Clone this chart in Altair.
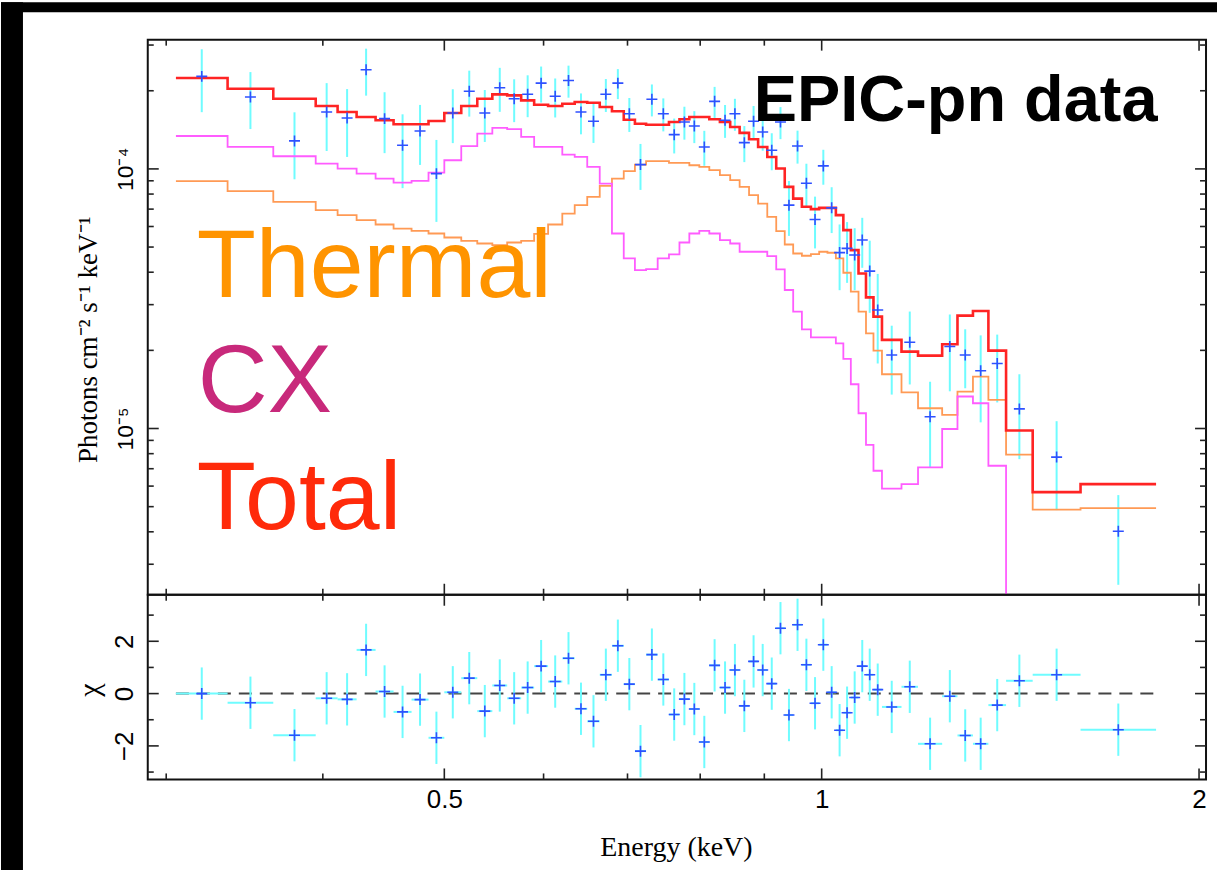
import altair as alt
import numpy as np
import pandas as pd

# ---------------- data ----------------
# energy bin edges (keV)
edges = [0.3054, 0.3358, 0.3652, 0.3948, 0.4110, 0.4256, 0.4407, 0.4555, 0.4708, 0.4857,
         0.5000, 0.5158, 0.5312, 0.5461, 0.5612, 0.5758, 0.5897, 0.6050, 0.6210, 0.6353,
         0.6501, 0.6652, 0.6803, 0.6952, 0.7096, 0.7243, 0.7399, 0.7554, 0.7701, 0.7842,
         0.7987, 0.8135, 0.8295, 0.8453, 0.8601, 0.8751, 0.8898, 0.9049, 0.9199, 0.9344,
         0.9490, 0.9643, 0.9804, 0.9954, 1.0107, 1.0264, 1.0406, 1.0550, 1.0700, 1.0848,
         1.0998, 1.1171, 1.1579, 1.1936, 1.2477, 1.2833, 1.3203, 1.3583, 1.4031, 1.4734,
         1.6088, 1.8482]

# unfolded data (photons cm^-2 s^-1 keV^-1)
flux = [2.272e-4, 1.892e-4, 1.282e-4, 1.656e-4, 1.571e-4, 2.41e-4, 1.562e-4, 1.233e-4, 1.40e-4, 9.59e-5,
        1.642e-4, 1.99e-4, 1.642e-4, 2.055e-4, 1.864e-4, 1.938e-4, 2.14e-4, 1.904e-4, 2.19e-4, 1.656e-4,
        1.526e-4, 1.938e-4, 2.14e-4, 1.632e-4, 1.039e-4, 1.854e-4, 1.632e-4, 1.355e-4, 1.516e-4, 1.463e-4,
        1.215e-4, 1.821e-4, 1.54e-4, 1.632e-4, 1.262e-4, 1.526e-4, 1.388e-4, 1.18e-4, 1.516e-4, 7.25e-5,
        1.226e-4, 8.81e-5, 6.38e-5, 1.027e-4, 7.08e-5, 4.76e-5, 4.94e-5, 4.66e-5, 5.32e-5, 4.04e-5,
        2.86e-5, 1.92e-5, 2.15e-5, 1.11e-5, 2.07e-5, 1.92e-5, 1.67e-5, 1.78e-5, 1.19e-5, 7.76e-6,
        4.02e-6]

flux_err = [6.18e-5, 4.68e-5, 3.70e-5, 4.84e-5, 4.59e-5, 4.95e-5, 4.12e-5, 3.90e-5, 3.64e-5, 3.34e-5,
            3.85e-5, 4.00e-5, 3.72e-5, 3.96e-5, 3.50e-5, 3.56e-5, 3.39e-5, 3.26e-5, 3.09e-5, 2.97e-5,
            2.67e-5, 2.81e-5, 2.83e-5, 2.44e-5, 2.09e-5, 2.61e-5, 2.37e-5, 2.08e-5, 2.20e-5, 2.06e-5,
            1.87e-5, 2.49e-5, 2.23e-5, 2.30e-5, 2.00e-5, 2.21e-5, 2.13e-5, 1.92e-5, 2.14e-5, 1.73e-5,
            1.78e-5, 1.66e-5, 1.44e-5, 1.58e-5, 1.42e-5, 1.35e-5, 1.30e-5, 1.25e-5, 1.16e-5, 1.25e-5,
            1.08e-5, 5.69e-6, 6.72e-6, 4.04e-6, 6.79e-6, 4.91e-6, 6.14e-6, 5.20e-6, 4.28e-6, 2.91e-6,
            1.52e-6]

# residuals (chi)
chi = [0.0, -0.35, -1.59, -0.18, -0.22, 1.67, 0.08, -0.70, -0.23, -1.69,
       0.05, 0.59, -0.67, 0.31, -0.18, 0.23, 1.05, 0.46, 1.35, -0.58,
       -1.06, 0.72, 1.83, 0.36, -2.20, 1.49, 0.54, -0.80, -0.21, -0.59,
       -1.85, 1.08, 0.23, 0.90, -0.47, 1.23, 0.90, 0.38, 2.50, -0.82,
       2.63, 1.10, -0.37, 1.87, 0.05, -1.40, -0.73, -0.15, 1.05, 0.72,
       0.15, -0.51, 0.26, -1.92, -0.10, -1.60, -1.92, -0.44, 0.49, 0.72,
       -1.38]

model_total = [2.239e-4, 2.035e-4, 1.864e-4, 1.747e-4, 1.656e-4, 1.585e-4, 1.539e-4, 1.485e-4, 1.485e-4, 1.530e-4,
               1.642e-4, 1.747e-4, 1.864e-4, 1.937e-4, 1.920e-4, 1.837e-4, 1.767e-4, 1.747e-4, 1.783e-4, 1.810e-4,
               1.799e-4, 1.732e-4, 1.667e-4, 1.547e-4, 1.493e-4, 1.480e-4, 1.480e-4, 1.516e-4, 1.553e-4, 1.585e-4,
               1.585e-4, 1.553e-4, 1.516e-4, 1.451e-4, 1.376e-4, 1.301e-4, 1.215e-4, 1.112e-4, 1.003e-4, 8.527e-5,
               7.686e-5, 7.145e-5, 6.998e-5, 7.079e-5, 7.079e-5, 6.636e-5, 5.81e-5, 4.867e-5, 3.957e-5, 3.199e-5,
               2.697e-5, 2.194e-5, 1.978e-5, 1.909e-5, 2.110e-5, 2.721e-5, 2.836e-5, 1.995e-5, 9.824e-6, 5.689e-6,
               6.105e-6]

model_cx = [1.339e-4, 1.215e-4, 1.119e-4, 1.048e-4, 1.003e-4, 9.592e-5, 9.177e-5, 8.857e-5, 8.993e-5, 9.678e-5,
            1.080e-4, 1.223e-4, 1.367e-4, 1.438e-4, 1.422e-4, 1.328e-4, 1.215e-4, 1.215e-4, 1.135e-4, 1.112e-4,
            1.018e-4, 8.777e-5, 5.638e-5, 4.519e-5, 4.077e-5, 4.113e-5, 4.519e-5, 4.682e-5, 5.206e-5, 5.638e-5,
            5.774e-5, 5.638e-5, 5.318e-5, 5.160e-5, 4.795e-5, 4.795e-5, 4.795e-5, 4.615e-5, 4.099e-5, 3.416e-5,
            2.818e-5, 2.409e-5, 2.245e-5, 2.245e-5, 2.245e-5, 2.129e-5, 1.854e-5, 1.481e-5, 1.145e-5, 8.656e-6,
            6.876e-6, 5.862e-6, 6.105e-6, 7.079e-6, 9.956e-6, 1.328e-5, 1.251e-5, 7.187e-6, 0.0, 0.0,
            0.0]

model_thermal = [8.971e-5, 8.207e-5, 7.464e-5, 6.936e-5, 6.636e-5, 6.349e-5, 6.106e-5, 5.893e-5, 5.774e-5, 5.638e-5,
                 5.442e-5, 5.285e-5, 5.160e-5, 5.087e-5, 5.206e-5, 5.285e-5, 5.623e-5, 6.106e-5, 6.731e-5, 7.252e-5,
                 7.805e-5, 8.603e-5, 9.177e-5, 9.798e-5, 1.039e-4, 1.071e-4, 1.071e-4, 1.055e-4, 1.055e-4, 1.033e-4,
                 1.018e-4, 9.886e-5, 9.458e-5, 9.049e-5, 8.527e-5, 7.924e-5, 7.355e-5, 6.535e-5, 5.759e-5, 5.114e-5,
                 4.722e-5, 4.628e-5, 4.698e-5, 4.795e-5, 4.753e-5, 4.519e-5, 3.981e-5, 3.365e-5, 2.818e-5, 2.325e-5,
                 1.995e-5, 1.618e-5, 1.379e-5, 1.197e-5, 1.129e-5, 1.388e-5, 1.585e-5, 1.290e-5, 7.925e-6, 4.866e-6,
                 4.936e-6]

# axis ticks / labels
x_major = [0.5, 1.0, 2.0]
x_minor = [0.3, 0.4, 0.6, 0.7, 0.8, 0.9]
y1_major = [1e-5, 1e-4]
y1_minor = [3e-6, 4e-6, 5e-6, 6e-6, 7e-6, 8e-6, 9e-6,
            2e-5, 3e-5, 4e-5, 5e-5, 6e-5, 7e-5, 8e-5, 9e-5, 2e-4, 3e-4]
y2_major = [-2, 0, 2]
y2_minor = [-3, -1, 1, 3]

# ---------------- styling ----------------
SANS = "Liberation Sans"
SERIF = "Liberation Serif"
W, H1, H2 = 1060, 556, 185
MAJ, MIN = 11, 6
C_RED = "#ff2424"
C_MAG = "#ff5cff"
C_ORA = "#ff9a55"
C_CYAN = "#6ffcff"
C_BLUE = "#2f50ff"
CROSS = "M-1,0L1,0M0,-1L0,1"

xs = alt.Scale(type="log", domain=[0.2900, 2.0258], nice=False)
ys1 = alt.Scale(type="log", domain=[2.289e-6, 3.147e-4], nice=False)
ys2 = alt.Scale(type="linear", domain=[-3.282, 3.779], nice=False, zero=False)

# ---------------- tables ----------------
lo = np.array(edges[:-1])
hi = np.array(edges[1:])
mid = np.sqrt(lo * hi)
f = np.array(flux)
fe = np.array(flux_err)
c = np.array(chi)
pts = pd.DataFrame({"E": mid, "lo": lo, "hi": hi, "f": f, "f_lo": f - fe, "f_hi": f + fe,
                    "chi": c, "c_lo": c - 1, "c_hi": c + 1})


def steps(vals):
    rows = []
    for i, v in enumerate(vals):
        v = max(v, 1e-9)
        rows.append({"E": lo[i], "v": v, "o": 2 * i})
        rows.append({"E": hi[i], "v": v, "o": 2 * i + 1})
    return pd.DataFrame(rows)


one = pd.DataFrame({"k": [0]})

y1_axis = alt.Axis(values=y1_major,
                   labelExpr="datum.value > 5e-5 ? '10⁻⁴' : '10⁻⁵'",
                   ticks=False, tickSize=0, domain=False, grid=False,
                   labelAngle=270, labelAlign="center", labelBaseline="bottom", labelPadding=10,
                   labelFont=SANS, labelFontSize=23, labelColor="black", labelFlush=False,
                   title="Photons cm⁻² s⁻¹ keV⁻¹", titleFont=SERIF, titleFontSize=27,
                   titleFontWeight="normal", titleColor="black", titleAngle=270,
                   titleAlign="center", titleBaseline="middle", titleX=-59, titleY=300, zindex=1)

y2_axis = alt.Axis(values=y2_major,
                   labelExpr="datum.value < 0 ? '−2' : (datum.value > 0 ? '2' : '0')",
                   ticks=False, tickSize=0, domain=False, grid=False,
                   labelAngle=270, labelAlign="center", labelBaseline="bottom", labelPadding=10,
                   labelFont=SANS, labelFontSize=26, labelColor="black", labelFlush=False,
                   title="χ", titleFont=SERIF, titleFontSize=30, titleFontWeight="normal",
                   titleColor="black", titleAngle=270, titleAlign="center", titleBaseline="middle",
                   titleX=-58, titleY=95, zindex=1)

x_axis = alt.Axis(values=x_major,
                  labelExpr="datum.value < 0.75 ? '0.5' : (datum.value < 1.5 ? '1' : '2')",
                  ticks=False, tickSize=0, domain=False, grid=False,
                  labelAngle=0, labelAlign="center", labelBaseline="top", labelPadding=7,
                  labelFont=SANS, labelFontSize=26, labelColor="black", labelFlush=False,
                  title="Energy (keV)", titleFont=SERIF, titleFontSize=28, titleFontWeight="normal",
                  titleColor="black", titleX=529, titleY=76, titleAlign="center",
                  titleBaseline="alphabetic", zindex=1)


def x_ticks(vals, length, H, axis):
    d = pd.DataFrame({"t": vals})
    base = alt.Chart(d).mark_rule(color="#222222", strokeWidth=1.6)
    return [
        base.encode(x=alt.X("t:Q", scale=xs, axis=axis), y=alt.value(0), y2=alt.value(length)),
        base.encode(x=alt.X("t:Q", scale=xs, axis=axis), y=alt.value(H), y2=alt.value(H - length)),
    ]


def y_ticks(vals, length, scale, axis):
    d = pd.DataFrame({"t": vals})
    base = alt.Chart(d).mark_rule(color="#222222", strokeWidth=1.6)
    return [
        base.encode(y=alt.Y("t:Q", scale=scale, axis=axis), x=alt.value(0), x2=alt.value(length)),
        base.encode(y=alt.Y("t:Q", scale=scale, axis=axis), x=alt.value(W), x2=alt.value(W - length)),
    ]


def label(text, x, y, color, size, weight="normal"):
    return alt.Chart(one).mark_text(text=text, align="left", baseline="alphabetic", font=SANS,
                                    fontSize=size, fontWeight=weight, color=color).encode(
        x=alt.value(x), y=alt.value(y))


# ---------------- top panel ----------------
strips = [
    alt.Chart(one).mark_rect(color="black").encode(
        x=alt.value(-147), x2=alt.value(-125), y=alt.value(-37.5), y2=alt.value(832.5)),
    alt.Chart(one).mark_rect(color="black").encode(
        x=alt.value(-147), x2=alt.value(1071), y=alt.value(-37.5), y2=alt.value(-27.5)),
]

top_ticks = (x_ticks(x_major, MAJ, H1, None) + x_ticks(x_minor, MIN, H1, None)
             + y_ticks(y1_major, MAJ, ys1, y1_axis) + y_ticks(y1_minor, MIN, ys1, y1_axis))

ebar_top = alt.Chart(pts).mark_rule(color=C_CYAN, strokeWidth=2).encode(
    x=alt.X("E:Q", scale=xs, axis=None),
    y=alt.Y("f_lo:Q", scale=ys1, axis=y1_axis), y2="f_hi:Q")


def model_line(vals, color, width):
    return alt.Chart(steps(vals)).mark_line(color=color, strokeWidth=width, clip=True,
                                            strokeJoin="miter").encode(
        x=alt.X("E:Q", scale=xs, axis=None),
        y=alt.Y("v:Q", scale=ys1, axis=y1_axis),
        order="o:Q")


cross_top = alt.Chart(pts).mark_point(shape=CROSS, size=121, filled=False, stroke=C_BLUE,
                                      strokeWidth=1.6, opacity=1).encode(
    x=alt.X("E:Q", scale=xs, axis=None), y=alt.Y("f:Q", scale=ys1, axis=y1_axis))

texts = [
    label("Thermal", 49, 257.5, "#ff9400", 97),
    label("CX", 50, 372.5, "#c8297b", 97),
    label("Total", 49, 490.5, "#ff2a0a", 97),
    label("EPIC-pn data", 607, 81, "black", 65, "bold"),
]

top = alt.layer(*strips, *top_ticks, ebar_top,
                model_line(model_thermal, C_ORA, 1.8),
                model_line(model_cx, C_MAG, 1.8),
                model_line(model_total, C_RED, 2.6),
                cross_top, *texts).properties(width=W, height=H1)

# ---------------- bottom panel ----------------
bot_ticks = (x_ticks(x_major, MAJ, H2, x_axis) + x_ticks(x_minor, MIN, H2, x_axis)
             + y_ticks(y2_major, MAJ, ys2, y2_axis) + y_ticks(y2_minor, MIN, ys2, y2_axis))

zero_df = pd.DataFrame({"a": [edges[0]], "b": [edges[-1]], "z": [0.0]})
zero_line = alt.Chart(zero_df).mark_rule(color="#444444", strokeWidth=2, strokeDash=[13, 8]).encode(
    x=alt.X("a:Q", scale=xs, axis=x_axis), x2="b:Q",
    y=alt.Y("z:Q", scale=ys2, axis=y2_axis))

xbar = alt.Chart(pts).mark_rule(color=C_CYAN, strokeWidth=2).encode(
    x=alt.X("lo:Q", scale=xs, axis=x_axis), x2="hi:Q",
    y=alt.Y("chi:Q", scale=ys2, axis=y2_axis))
ybar = alt.Chart(pts).mark_rule(color=C_CYAN, strokeWidth=2).encode(
    x=alt.X("E:Q", scale=xs, axis=x_axis),
    y=alt.Y("c_lo:Q", scale=ys2, axis=y2_axis), y2="c_hi:Q")
cross_bot = alt.Chart(pts).mark_point(shape=CROSS, size=121, filled=False, stroke=C_BLUE,
                                      strokeWidth=1.6, opacity=1).encode(
    x=alt.X("E:Q", scale=xs, axis=x_axis), y=alt.Y("chi:Q", scale=ys2, axis=y2_axis))

bottom = alt.layer(*bot_ticks, zero_line, xbar, ybar, cross_bot).properties(width=W, height=H2)

chart = alt.vconcat(top, bottom, spacing=0, bounds="flush").resolve_scale(
    x="independent", y="independent").properties(padding=0).configure(
    background="white").configure_view(stroke="#111111", strokeWidth=2)

chart.save("out.html", embed_options={"renderer": "svg", "actions": False})
